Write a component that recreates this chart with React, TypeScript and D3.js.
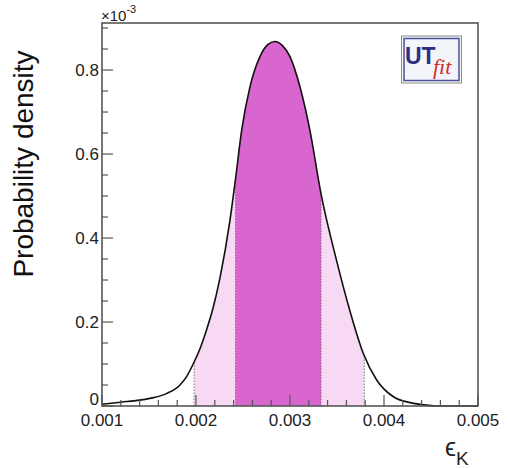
import React from 'react';
import * as d3 from 'd3';

// epsilon_K values (absolute) and probability density (in units of 1e-3)
const epsK = [0.00100, 0.00120, 0.00140, 0.00155, 0.00169, 0.00183, 0.00190, 0.00197, 0.00204, 0.00211, 0.00218, 0.002255, 0.00236, 0.00242, 0.002486, 0.002574, 0.00268, 0.00276, 0.00284, 0.00292, 0.00300, 0.003106, 0.003213, 0.00333, 0.003497, 0.003638, 0.00378, 0.003922, 0.00410, 0.00428, 0.00445, 0.00460, 0.00500];
const density = [0.004, 0.009, 0.014, 0.020, 0.030, 0.050, 0.070, 0.100, 0.135, 0.180, 0.232, 0.305, 0.440, 0.540, 0.657, 0.760, 0.832, 0.860, 0.868, 0.858, 0.832, 0.760, 0.655, 0.505, 0.345, 0.226, 0.125, 0.062, 0.022, 0.008, 0.002, 0.000, 0.000];

const band95 = [0.00198, 0.00379];
const band68 = [0.00242, 0.00333];

const xTicks = [0.001, 0.002, 0.003, 0.004, 0.005];
const xTickLabels = ['0.001', '0.002', '0.003', '0.004', '0.005'];
const yTicks = [0, 0.2, 0.4, 0.6, 0.8];
const yTickLabels = ['0', '0.2', '0.4', '0.6', '0.8'];

const W = 508, H = 468;
const L = 102, R = 478, T = 23, B = 406;

export default function App() {
  const x = d3.scaleLinear().domain([0.001, 0.005]).range([L, R]);
  const y = d3.scaleLinear().domain([0, 0.912]).range([B, T]);
  const pts: [number, number][] = epsK.map((e, i) => [e, density[i]]);

  const area = d3.area<[number, number]>()
    .x(d => x(d[0])).y0(y(0)).y1(d => y(d[1]))
    .curve(d3.curveMonotoneX)(pts) || '';
  const line = d3.line<[number, number]>()
    .x(d => x(d[0])).y(d => y(d[1]))
    .curve(d3.curveMonotoneX)(pts) || '';

  const xMinor = d3.range(0, 21).map(i => 0.001 + i * 0.0002);
  const yMinor = d3.range(0, 19).map(i => i * 0.05);
  const font = "'Liberation Sans', Arial, Helvetica, sans-serif";
  const frame = '#555';

  return (
    <svg width={W} height={H} style={{ position: 'absolute', left: 0, top: 0, background: '#fff' }}>
      <defs>
        <clipPath id="c95"><rect x={x(band95[0])} y={T} width={x(band95[1]) - x(band95[0])} height={B - T} /></clipPath>
        <clipPath id="c68"><rect x={x(band68[0])} y={T} width={x(band68[1]) - x(band68[0])} height={B - T} /></clipPath>
        <clipPath id="carea"><path d={area} /></clipPath>
      </defs>
      <rect x={0} y={0} width={W} height={H} fill="#fff" />
      <path d={area} fill="#f7d9f3" clipPath="url(#c95)" />
      <path d={area} fill="#d966cf" clipPath="url(#c68)" />
      <g clipPath="url(#carea)" stroke="#777" strokeWidth={1} strokeDasharray="1.5,1.5">
        {[...band95, ...band68].map((e, i) => (
          <line key={i} x1={x(e)} x2={x(e)} y1={B} y2={T} />
        ))}
      </g>
      <path d={line} fill="none" stroke="#111" strokeWidth={1.6} />

      {/* frame */}
      <rect x={L} y={T} width={R - L} height={B - T} fill="none" stroke={frame} strokeWidth={1.6} />

      {/* x ticks */}
      {xMinor.map((v, i) => {
        const major = i % 5 === 0;
        return <line key={'xm' + i} x1={x(v)} x2={x(v)} y1={B} y2={B - (major ? 11 : 6)} stroke={frame} strokeWidth={1.2} />;
      })}
      {xTicks.map((v, i) => (
        <text key={'xl' + i} x={x(v)} y={426} textAnchor="middle" fontFamily={font} fontSize={17} fill="#222">{xTickLabels[i]}</text>
      ))}

      {/* y ticks */}
      {yMinor.map((v, i) => {
        const major = i % 4 === 0;
        return <line key={'ym' + i} x1={L} x2={L + (major ? 11 : 6)} y1={y(v)} y2={y(v)} stroke={frame} strokeWidth={1.2} />;
      })}
      {yTicks.map((v, i) => (
        <text key={'yl' + i} x={99} y={v === 0 ? y(v) - 1 : y(v) + 6} textAnchor="end" fontFamily={font} fontSize={17} fill="#222">{yTickLabels[i]}</text>
      ))}

      {/* exponent */}
      <text x={101} y={21} fontFamily={font} fontSize={15} fill="#222">
        ×10<tspan dy={-8} fontSize={11}>-3</tspan>
      </text>

      {/* axis titles */}
      <text transform="translate(33,164) rotate(-90)" textAnchor="middle" fontFamily={font} fontSize={28} fill="#111">Probability density</text>
      <text x={445} y={456} fontFamily={font} fontSize={25} fill="#222">ϵ<tspan dy={9} fontSize={19}>K</tspan></text>

      {/* UTfit logo */}
      <rect x={401.5} y={36} width={60} height={47} fill="#fafafa" stroke="#888" strokeWidth={1} />
      <rect x={404} y={38.5} width={55} height={42} fill="#f4f4fb" stroke="#4a4f98" strokeWidth={1.5} />
      <text x={405} y={64} fontFamily={font} fontSize={23} fontWeight="bold" fill="#2d2f82">UT</text>
      <text x={433} y={74} fontFamily="'Liberation Serif', 'Times New Roman', serif" fontSize={22} fontStyle="italic" fill="#d22a2a">fit</text>
    </svg>
  );
}
